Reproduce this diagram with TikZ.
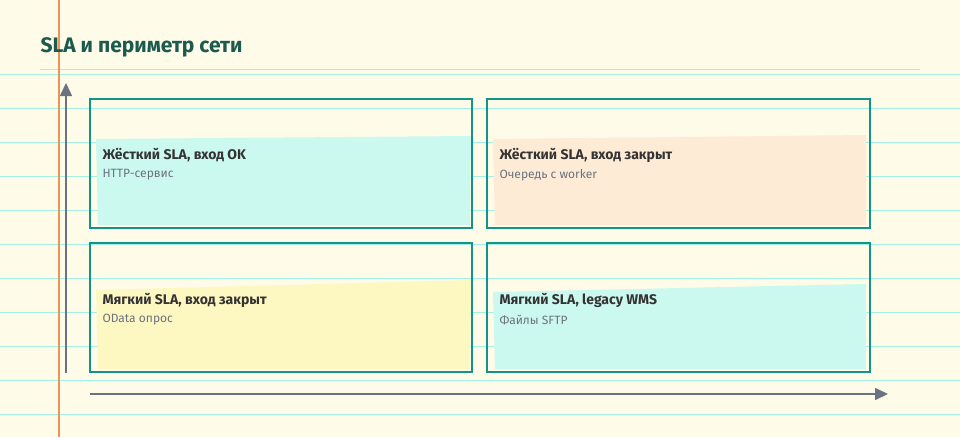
\documentclass[tikz,border=0pt]{standalone}
\usepackage{fontspec}
\setmainfont{Fira Sans}
\definecolor{paper}{HTML}{FEFBE8}
\definecolor{ruled}{HTML}{A3F0E4}
\definecolor{margin}{HTML}{EE9257}
\definecolor{frame}{HTML}{12948A}
\definecolor{axis}{HTML}{6B7280}
\definecolor{titlec}{HTML}{1B5A4E}
\definecolor{mint}{HTML}{CCF9EF}
\definecolor{peach}{HTML}{FEEBD5}
\definecolor{lemon}{HTML}{FDF7C2}
\tikzset{
  cell/.style={draw=frame, line width=1.6pt},
  head/.style={anchor=west, font=\fontsize{14}{16}\selectfont\bfseries, text=black!80},
  sub/.style={anchor=west, font=\fontsize{12}{14}\selectfont, text=axis},
  arr/.style={axis, line width=1.6pt, -{Triangle[length=13pt,width=12pt]}}
}
\usetikzlibrary{arrows.meta}
\begin{document}
\begin{tikzpicture}[x=1pt,y=-1pt]
\fill[paper] (0,0) rectangle (960,437);
\useasboundingbox (0,0) rectangle (960,437);
\foreach \y in {74,108,...,437} \draw[ruled, line width=0.8pt] (0,\y) -- (960,\y);
\draw[ruled, line width=0.8pt] (40,69) -- (920,69);
\draw[margin, line width=1.6pt] (59,0) -- (59,437);
\node[anchor=west, font=\fontsize{21}{24}\selectfont\bfseries, text=titlec] (title) at (37,47) {SLA и периметр сети};
% cells
\fill[mint] (96,139) -- (471,136) -- (470,225) -- (98,225) -- cycle;
\fill[peach] (493,139) -- (866,135) -- (866,225) -- (495,225) -- cycle;
\fill[lemon] (96,290) -- (471,280) -- (470,369) -- (98,369) -- cycle;
\fill[mint] (493,292) -- (866,284) -- (866,369) -- (495,369) -- cycle;
\draw[cell] (90,99) rectangle (472,228);
\draw[cell] (487,99) rectangle (870,228);
\draw[cell] (90,243) rectangle (472,372);
\draw[cell] (487,243) rectangle (870,372);
\node[head] (a1) at (99,155) {Жёсткий SLA, вход OK};
\node[sub] (a2) at (99,175) {HTTP-сервис};
\node[head] (b1) at (496,155) {Жёсткий SLA, вход закрыт};
\node[sub] (b2) at (496,175) {Очередь с worker};
\node[head] (c1) at (99,300) {Мягкий SLA, вход закрыт};
\node[sub] (c2) at (99,320) {OData опрос};
\node[head] (d1) at (496,300) {Мягкий SLA, legacy WMS};
\node[sub] (d2) at (496,320) {Файлы SFTP};
% axes
\coordinate (yb) at (66,373); \coordinate (yt) at (66,83);
\coordinate (xl) at (90,394); \coordinate (xr) at (888,394);
\draw[arr] (yb) -- (yt);
\draw[arr] (xl) -- (xr);
\end{tikzpicture}
\end{document}
